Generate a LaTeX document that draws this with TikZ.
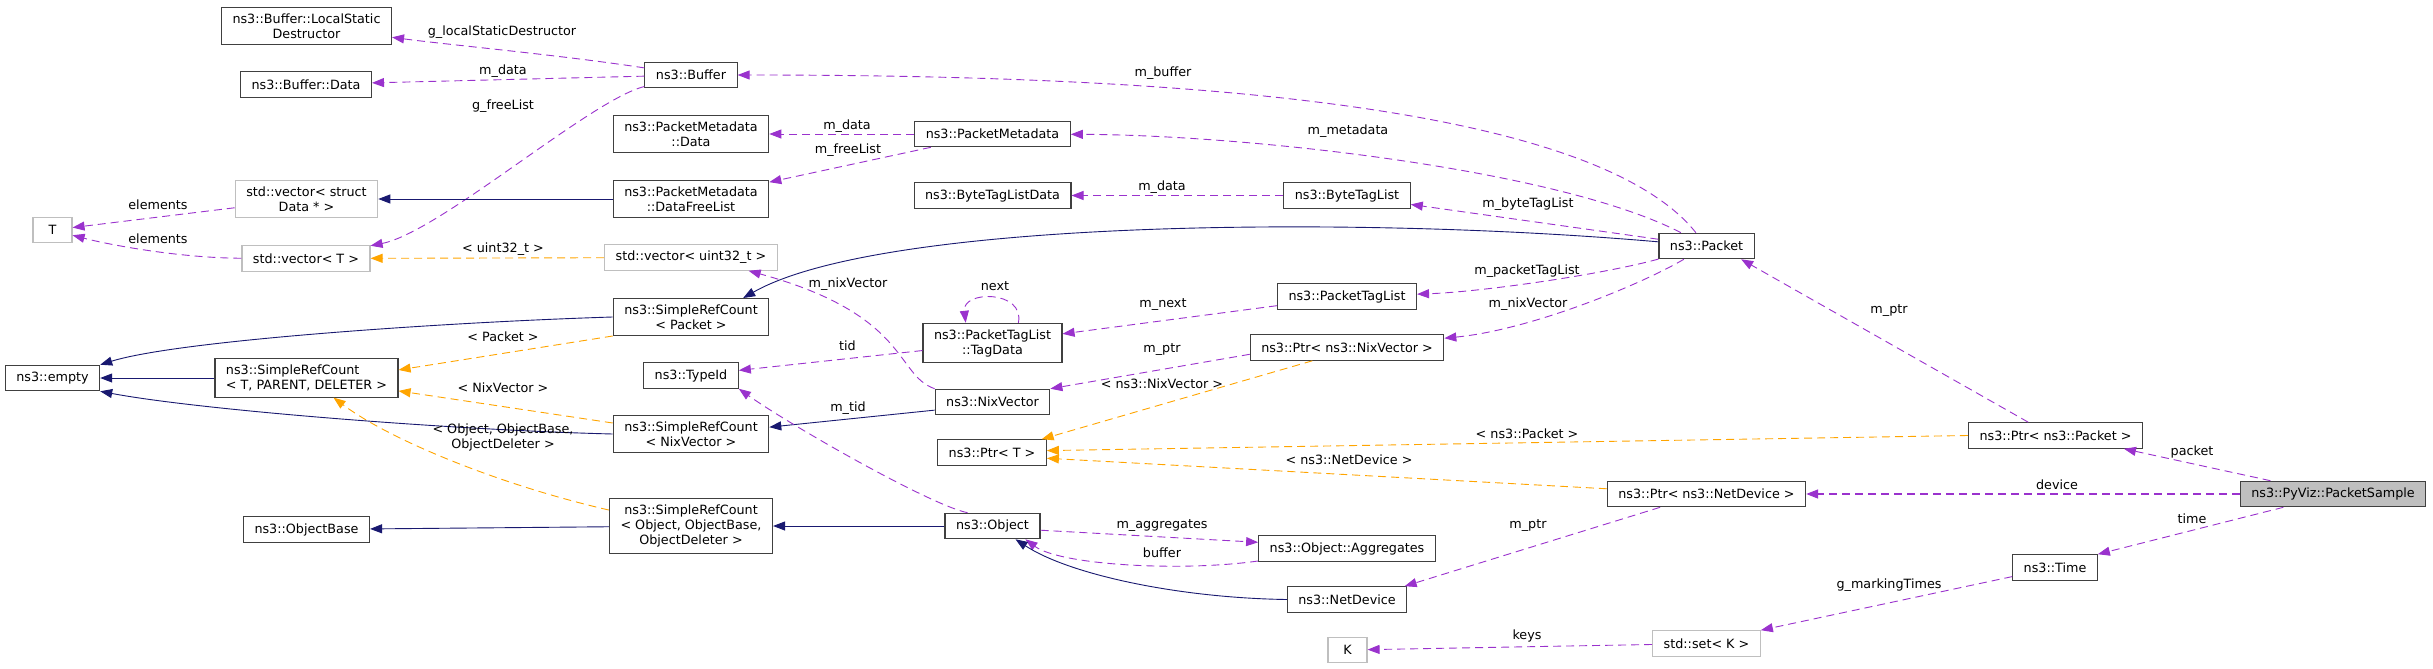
\documentclass[tikz,border=0pt]{standalone}
\usepackage{fontspec}
\setmainfont{DejaVu Sans}
\usepackage{tikz}
\usetikzlibrary{arrows.meta, positioning}
\definecolor{dxpurple}{HTML}{9A32CD}
\definecolor{dxorange}{HTML}{FFA500}
\definecolor{dxnavy}{HTML}{191970}
\definecolor{dxborder}{HTML}{404040}
\definecolor{dxgrey}{HTML}{BFBFBF}
\newcommand{\dxfont}{\fontsize{12.75}{15}\selectfont}

\begin{document}
\begin{tikzpicture}[x=1pt, y=-1pt,
      cls/.style={rectangle, draw=dxborder, line width=1.1pt, fill=white,
                  font=\dxfont, align=center, inner xsep=11pt, inner ysep=6pt,
                  minimum height=25.5pt},
      ext/.style={cls, draw=dxgrey},
      cur/.style={cls, fill=dxgrey},
      lbl/.style={font=\dxfont, inner sep=0pt, align=center},
      dxarrow/.style={-{Triangle[length=12pt,width=9pt]}, line width=0.9pt},
      usesrel/.style={dxarrow, dxpurple, dash pattern=on 8pt off 5pt},
      tmplrel/.style={dxarrow, dxorange, dash pattern=on 8pt off 5pt},
      inhrel/.style={dxarrow, dxnavy}
    ]
    \path[use as bounding box, fill=white] (0,0) rectangle (2433,669);

    % classes
    \node[cls] (lsd) at (306.5,26) {ns3::Buffer::LocalStatic\\Destructor};
    \node[cls] (bdata) at (306,84.5) {ns3::Buffer::Data};
    \node[ext] (vecsd) at (306.5,199) {std::vector< struct\\Data * >};
    \node[ext, minimum width=39pt] (tT) at (52.5,230) {T};
    \node[ext] (vect) at (306,258.5) {std::vector< T >};
    \node[cls] (buf) at (691,75) {ns3::Buffer};
    \node[cls] (pmdata) at (691,134) {ns3::PacketMetadata\\::Data};
    \node[cls] (pmfree) at (691,199) {ns3::PacketMetadata\\::DataFreeList};
    \node[cls] (pm) at (992.5,134) {ns3::PacketMetadata};
    \node[cls] (btld) at (992.5,195.5) {ns3::ByteTagListData};
    \node[ext] (vu32) at (691,257.5) {std::vector< uint32\_t >};
    \node[cls] (srcp) at (691,317) {ns3::SimpleRefCount\\< Packet >};
    \node[cls] (tagdata) at (992.5,343) {ns3::PacketTagList\\::TagData};
    \node[cls] (btl) at (1347,195.5) {ns3::ByteTagList};
    \node[cls] (packet) at (1706.5,246) {ns3::Packet};
    \node[cls] (ptl) at (1347,296.5) {ns3::PacketTagList};
    \node[cls] (pnv) at (1347,347.5) {ns3::Ptr< ns3::NixVector >};
    \node[cls] (empty) at (52.5,378) {ns3::empty};
    \node[cls, align=left] (srct) at (306.5,378) {ns3::SimpleRefCount\\< T, PARENT, DELETER >};
    \node[cls] (objbase) at (306.5,529.5) {ns3::ObjectBase};
    \node[cls] (typeid) at (691,375.5) {ns3::TypeId};
    \node[cls] (srcnv) at (691,434) {ns3::SimpleRefCount\\< NixVector >};
    \node[cls] (srcobj) at (691,526) {ns3::SimpleRefCount\\< Object, ObjectBase,\\ObjectDeleter >};
    \node[cls] (nixv) at (992.5,402) {ns3::NixVector};
    \node[cls] (ptrt) at (992,452.5) {ns3::Ptr< T >};
    \node[cls] (object) at (992.5,526) {ns3::Object};
    \node[cls] (ptrnd) at (1706.5,494) {ns3::Ptr< ns3::NetDevice >};
    \node[cls] (aggr) at (1347,548.5) {ns3::Object::Aggregates};
    \node[cls] (netdev) at (1347,599.5) {ns3::NetDevice};
    \node[ext, minimum width=39pt] (kK) at (1347.5,650) {K};
    \node[ext] (setk) at (1706.5,643.5) {std::set< K >};
    \node[cls] (ptrp) at (2055.5,435.5) {ns3::Ptr< ns3::Packet >};
    \node[cur] (sample) at (2333,494) {ns3::PyViz::PacketSample};
    \node[cls] (time) at (2055,567.5) {ns3::Time};

    % relations
    \draw[usesrel] (buf) .. controls (560,55) and (450,45) .. (lsd);
    \draw[usesrel] (buf) -- (bdata);
    \draw[usesrel] (buf) .. controls (590,100) and (440,232) .. (vect);
    \draw[usesrel] (pm) -- (pmdata);
    \draw[usesrel] (pm) -- (pmfree);
    \draw[inhrel] (pmfree) -- (vecsd);
    \draw[usesrel] (vecsd) -- (tT);
    \draw[usesrel] (vect) .. controls (180,258) and (110,245) .. (tT);
    \draw[tmplrel] (vu32) -- (vect);
    \draw[usesrel] (packet) .. controls (1590,100) and (1150,75) .. (buf);
    \draw[usesrel] (packet) .. controls (1560,170) and (1250,135) .. (pm);
    \draw[usesrel] (btl) -- (btld);
    \draw[usesrel] (packet) -- (btl);
    \draw[inhrel] (packet) .. controls (1350,215) and (880,220) .. (srcp.20);
    \draw[usesrel] (packet) .. controls (1600,275) and (1480,292) .. (ptl);
    \draw[usesrel] (packet) .. controls (1640,285) and (1530,330) .. (pnv);
    \draw[usesrel] (ptl) -- (tagdata);
    \draw[usesrel] (tagdata.38) .. controls (1025,290) and (962,290) .. (tagdata.143);
    \draw[usesrel] (nixv.north west) .. controls (895,375) and (910,315) .. (vu32.-13);
    \draw[usesrel] (tagdata) -- (typeid);
    \draw[usesrel] (pnv.184) -- (nixv.north east);
    \draw[tmplrel] (pnv.201) -- (ptrt.15);
    \draw[tmplrel] (srcp.south west) -- (srct.5);
    \draw[tmplrel] (srcnv.172) -- (srct.-8);
    \draw[tmplrel] (srcobj.169) .. controls (500,485) and (390,440) .. (srct.-36);
    \draw[inhrel] (srcp.west) .. controls (450,322) and (180,340) .. (empty.north east);
    \draw[inhrel] (srct) -- (empty);
    \draw[inhrel] (srcnv.west) .. controls (450,430) and (200,410) .. (empty.south east);
    \draw[inhrel] (nixv.188) -- (srcnv.5);
    \draw[usesrel] (object.152) .. controls (930,505) and (790,425) .. (typeid.south east);
    \draw[tmplrel] (ptrp.west) -- (ptrt.2);
    \draw[tmplrel] (ptrnd.177) -- (ptrt.-6);
    \draw[inhrel] (object) -- (srcobj);
    \draw[inhrel] (srcobj) -- (objbase);
    \draw[usesrel] (object.-5) -- (aggr.176);
    \draw[usesrel] (aggr.188) .. controls (1180,572) and (1060,565) .. (object.-22);
    \draw[inhrel] (netdev.west) .. controls (1180,598) and (1070,575) .. (object.-30);
    \draw[usesrel] (ptrp.154) -- (packet.-21);
    \draw[usesrel] (ptrnd.196) -- (netdev.13);
    \draw[usesrel] (sample.168) -- (ptrp.-11);
    \draw[usesrel, line width=1.5pt] (sample) -- (ptrnd);
    \draw[usesrel] (sample.195) -- (time.north east);
    \draw[usesrel] (time.192) -- (setk.north east);
    \draw[usesrel] (setk) -- (kK);

    % labels
    \node[lbl] (l-lsd) at (502,32) {g\_localStaticDestructor};
    \node[lbl] (l-bdata) at (503,71) {m\_data};
    \node[lbl] (l-free) at (503,106) {g\_freeList};
    \node[lbl] (l-el1) at (158,205) {elements};
    \node[lbl] (l-el2) at (158,239) {elements};
    \node[lbl] (l-u32) at (503,249) {< uint32\_t >};
    \node[lbl] (l-buf) at (1163,73) {m\_buffer};
    \node[lbl] (l-pmdata) at (847,126) {m\_data};
    \node[lbl] (l-pmfree) at (848,150) {m\_freeList};
    \node[lbl] (l-btld) at (1162,187) {m\_data};
    \node[lbl] (l-nvu32) at (848,284) {m\_nixVector};
    \node[lbl] (l-next) at (995,286) {next};
    \node[lbl] (l-mnext) at (1163,305) {m\_next};
    \node[lbl] (l-meta) at (1348,131) {m\_metadata};
    \node[lbl] (l-btl) at (1528,204) {m\_byteTagList};
    \node[lbl] (l-ptl) at (1527,271) {m\_packetTagList};
    \node[lbl] (l-pnv) at (1528,304) {m\_nixVector};
    \node[lbl] (l-tpkt) at (503,337) {< Packet >};
    \node[lbl] (l-tnv) at (503,388) {< NixVector >};
    \node[lbl] (l-tobj) at (503,437) {< Object, ObjectBase,\\ObjectDeleter >};
    \node[lbl] (l-tid) at (847.5,346) {tid};
    \node[lbl] (l-nvptr) at (1162,350) {m\_ptr};
    \node[lbl] (l-tpnv) at (1162,384) {< ns3::NixVector >};
    \node[lbl] (l-mtid) at (848,408) {m\_tid};
    \node[lbl] (l-aggr) at (1162,526) {m\_aggregates};
    \node[lbl] (l-bufr) at (1162,553) {buffer};
    \node[lbl] (l-tppkt) at (1527,434) {< ns3::Packet >};
    \node[lbl] (l-tpnd) at (1349,460) {< ns3::NetDevice >};
    \node[lbl] (l-ndptr) at (1528,526) {m\_ptr};
    \node[lbl] (l-keys) at (1527,636) {keys};
    \node[lbl] (l-pptr) at (1889,311) {m\_ptr};
    \node[lbl] (l-packet) at (2192,452) {packet};
    \node[lbl] (l-device) at (2057,485) {device};
    \node[lbl] (l-time) at (2192,519) {time};
    \node[lbl] (l-mark) at (1889,585) {g\_markingTimes};
  \end{tikzpicture}
\end{document}
